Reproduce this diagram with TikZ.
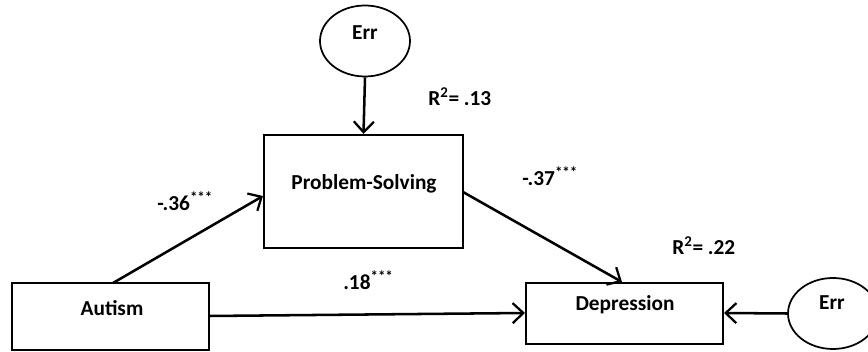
\documentclass[tikz,border=0pt]{standalone}
\usepackage{fontspec}
\setmainfont{Carlito}
\usetikzlibrary{arrows.meta,shapes.geometric}
\begin{document}
\begin{tikzpicture}[x=0.75pt,y=-0.75pt,
  every node/.style={font=\fontsize{16}{18}\selectfont\bfseries, inner sep=0pt},
  boxnode/.style={draw, line width=1.7pt, rectangle},
  errnode/.style={draw, line width=1.3pt, ellipse, minimum width=90*0.75pt, minimum height=71*0.75pt},
  conn/.style={line width=1.9pt, -{Straight Barb[length=8pt,width=15pt,line width=1.7pt]}}]
\clip (0,0) rectangle (868,352);
\useasboundingbox (0,0) rectangle (868,352);
\fill[white] (0,0) rectangle (868,352);
% boxes
\node[boxnode, minimum width=199*0.75pt, minimum height=113*0.75pt] (ps) at (363.5,191.5) {};
\node (pst) at (364,184) {Problem-Solving};
\node[boxnode, minimum width=197*0.75pt, minimum height=67*0.75pt] (aut) at (110.5,316.5) {};
\node (autt) at (112,308) {Autism};
\node[boxnode, minimum width=197*0.75pt, minimum height=61*0.75pt] (dep) at (624.5,313.5) {};
\node (dept) at (625,305) {Depression};
% error terms
\node[errnode] (err1) at (365,41) {};
\node (err1t) at (365,33) {Err};
\node[errnode] (err2) at (833,313.5) {};
\node (err2t) at (832,303) {Err};
% connectors
\coordinate (autTop) at (113,283);
\coordinate (psIn) at (263,196);
\draw[conn] (autTop) -- (psIn);
\coordinate (psOut) at (463,192);
\coordinate (depTop) at (622,282);
\draw[conn] (psOut) -- (depTop);
\coordinate (autR) at (209,316);
\coordinate (depL) at (525,313);
\draw[conn] (autR) -- (depL);
\draw[conn] (err1.south) -- (ps.north);
\coordinate (depR) at (724,313);
\draw[conn] (err2.west) -- (depR);
% labels
\node[anchor=base west] (l1) at (157,211) {-.36\textsuperscript{***}};
\node[anchor=base west] (l2) at (522,186) {-.37\textsuperscript{***}};
\node[anchor=base west] (l3) at (343,290) {.18\textsuperscript{***}};
\node[anchor=base west] (r1) at (428,106) {R\textsuperscript{2}= .13};
\node[anchor=base west] (r2) at (672,255) {R\textsuperscript{2}= .22};
\end{tikzpicture}
\end{document}
